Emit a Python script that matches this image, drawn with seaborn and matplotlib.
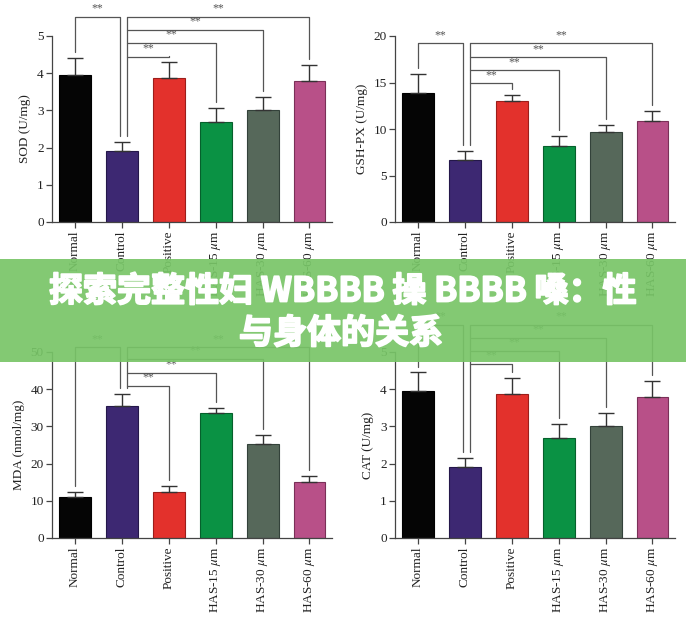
import numpy as np
import pandas as pd
import matplotlib
matplotlib.use('Agg')
import matplotlib.pyplot as plt
import matplotlib.patheffects as pe
import seaborn as sns
from matplotlib.patches import Rectangle

groups = ['Normal', 'Control', 'Positive', r'HAS-15 $\mu$m', r'HAS-30 $\mu$m', r'HAS-60 $\mu$m']
bar_colors = ['#050505', '#3d2872', '#e3312c', '#0a9244', '#56685a', '#b85088']
edge_colors = ['#000000', '#24174a', '#9c1e1a', '#06602c', '#33423a', '#7a3058']

sod_mean = [3.95, 1.92, 3.88, 2.70, 3.00, 3.80]
sod_sd = [0.45, 0.23, 0.42, 0.36, 0.37, 0.42]
gsh_mean = [13.9, 6.7, 13.0, 8.2, 9.7, 10.9]
gsh_sd = [2.0, 0.9, 0.7, 1.0, 0.7, 1.0]
mda_mean = [11.0, 35.4, 12.4, 33.5, 25.4, 15.1]
mda_sd = [1.4, 3.2, 1.6, 1.4, 2.2, 1.7]
cat_mean = [3.95, 1.92, 3.88, 2.70, 3.00, 3.78]
cat_sd = [0.50, 0.23, 0.42, 0.37, 0.37, 0.44]

# bracket heights: Normal-Control, Control-Positive, Control-HAS15, Control-HAS30, Control-HAS60
sod_brackets = [5.51, 4.44, 4.81, 5.16, 5.51]
gsh_brackets = [19.2, 14.9, 16.3, 17.7, 19.2]
mda_brackets = [51.3, 40.9, 44.4, 48.1, 51.3]
cat_brackets = [5.73, 4.68, 5.03, 5.38, 5.73]

banner_line1 = '探索完整性妇 WBBBB 操 BBBB 嗓：性'
banner_line2 = '与身体的关系'

sns.set_style('ticks')
plt.rcParams['font.family'] = ['Liberation Serif', 'DejaVu Serif']
plt.rcParams['mathtext.fontset'] = 'stix'

W, H = 686, 623
fig = plt.figure(figsize=(W / 100, H / 100), dpi=100)

LINE = '#555555'


def panel(left_px, bottom_px, mean, sd, brackets, ymax, step, ylabel):
    ax = fig.add_axes([left_px / W, (H - bottom_px) / H, 280 / W, 186 / H])
    df = pd.DataFrame({'group': groups, 'value': mean})
    sns.barplot(data=df, x='group', y='value', hue='group', palette=bar_colors,
                legend=False, width=0.68, ax=ax, saturation=1)
    for p, ec in zip(ax.patches, edge_colors):
        p.set_edgecolor(ec)
        p.set_linewidth(0.8)
    x = np.arange(len(groups))
    tops = np.array(mean) + np.array(sd)
    ax.errorbar(x, mean, yerr=[np.zeros(len(sd)), sd], fmt='none',
                ecolor='#333333', elinewidth=1.0, capsize=5.5, capthick=1.0, zorder=3)
    ax.set_xlim(-0.49, 5.48)
    ax.set_ylim(0, ymax)
    ax.set_yticks(np.arange(0, ymax + step / 2, step))
    ax.spines[['top', 'right']].set_visible(False)
    for s in ['left', 'bottom']:
        ax.spines[s].set_color('#444444')
        ax.spines[s].set_linewidth(0.9)
    ax.tick_params(axis='both', direction='out', length=4, width=0.9, color='#444444',
                   labelsize=9.5, labelcolor='#222222', pad=2)
    ax.set_xticks(x)
    ax.set_xticklabels(groups, rotation=90, fontsize=9.5)
    ax.set_xlabel('')
    ax.set_ylabel(ylabel, fontsize=9.5, color='#222222', labelpad=4)

    gap = 0.032 * ymax
    star_off = 0.012 * ymax
    kw = dict(color=LINE, lw=0.9, clip_on=False, zorder=4)
    # Normal vs Control
    lv = brackets[0]
    ax.plot([0, 0, 0.96, 0.96], [tops[0] + gap, lv, lv, tops[1] + gap], **kw)
    ax.text(0.48, lv + star_off, '**', ha='center', va='bottom', fontsize=8.5,
            color=LINE, clip_on=False)
    # Control vs treatments
    xl = 1.11
    ax.plot([xl, xl], [tops[1] + gap, max(brackets[1:])], **kw)
    for j, lv in zip(range(2, 6), brackets[1:]):
        ax.plot([xl, j, j], [lv, lv, tops[j] + gap], **kw)
        ax.text((xl + j) / 2, lv + star_off, '**', ha='center', va='bottom',
                fontsize=8.5, color=LINE, clip_on=False)
    return ax


panel(52, 222, sod_mean, sod_sd, sod_brackets, 5, 1, 'SOD (U/mg)')
panel(395, 222, gsh_mean, gsh_sd, gsh_brackets, 20, 5, 'GSH-PX (U/mg)')
panel(52, 538, mda_mean, mda_sd, mda_brackets, 50, 10, 'MDA (nmol/mg)')
panel(395, 538, cat_mean, cat_sd, cat_brackets, 5, 1, 'CAT (U/mg)')

# green title banner across the middle
fig.patches.append(Rectangle((0, (H - 362) / H), 1, 103 / H, transform=fig.transFigure,
                             facecolor='#78c567', alpha=0.92, edgecolor='none', zorder=10))
cjk = ['Noto Sans CJK SC', 'DejaVu Sans']
thick = [pe.withStroke(linewidth=1.3, foreground='white')]
fig.text(0.5, (H - 291) / H, banner_line1, ha='center', va='center', fontsize=24.5,
         fontweight='bold', color='white', family=cjk, zorder=11, path_effects=thick)
fig.text(0.497, (H - 333) / H, banner_line2, ha='center', va='center', fontsize=24.5,
         fontweight='bold', color='white', family=cjk, zorder=11, path_effects=thick)

fig.savefig('out.png', dpi=100)
